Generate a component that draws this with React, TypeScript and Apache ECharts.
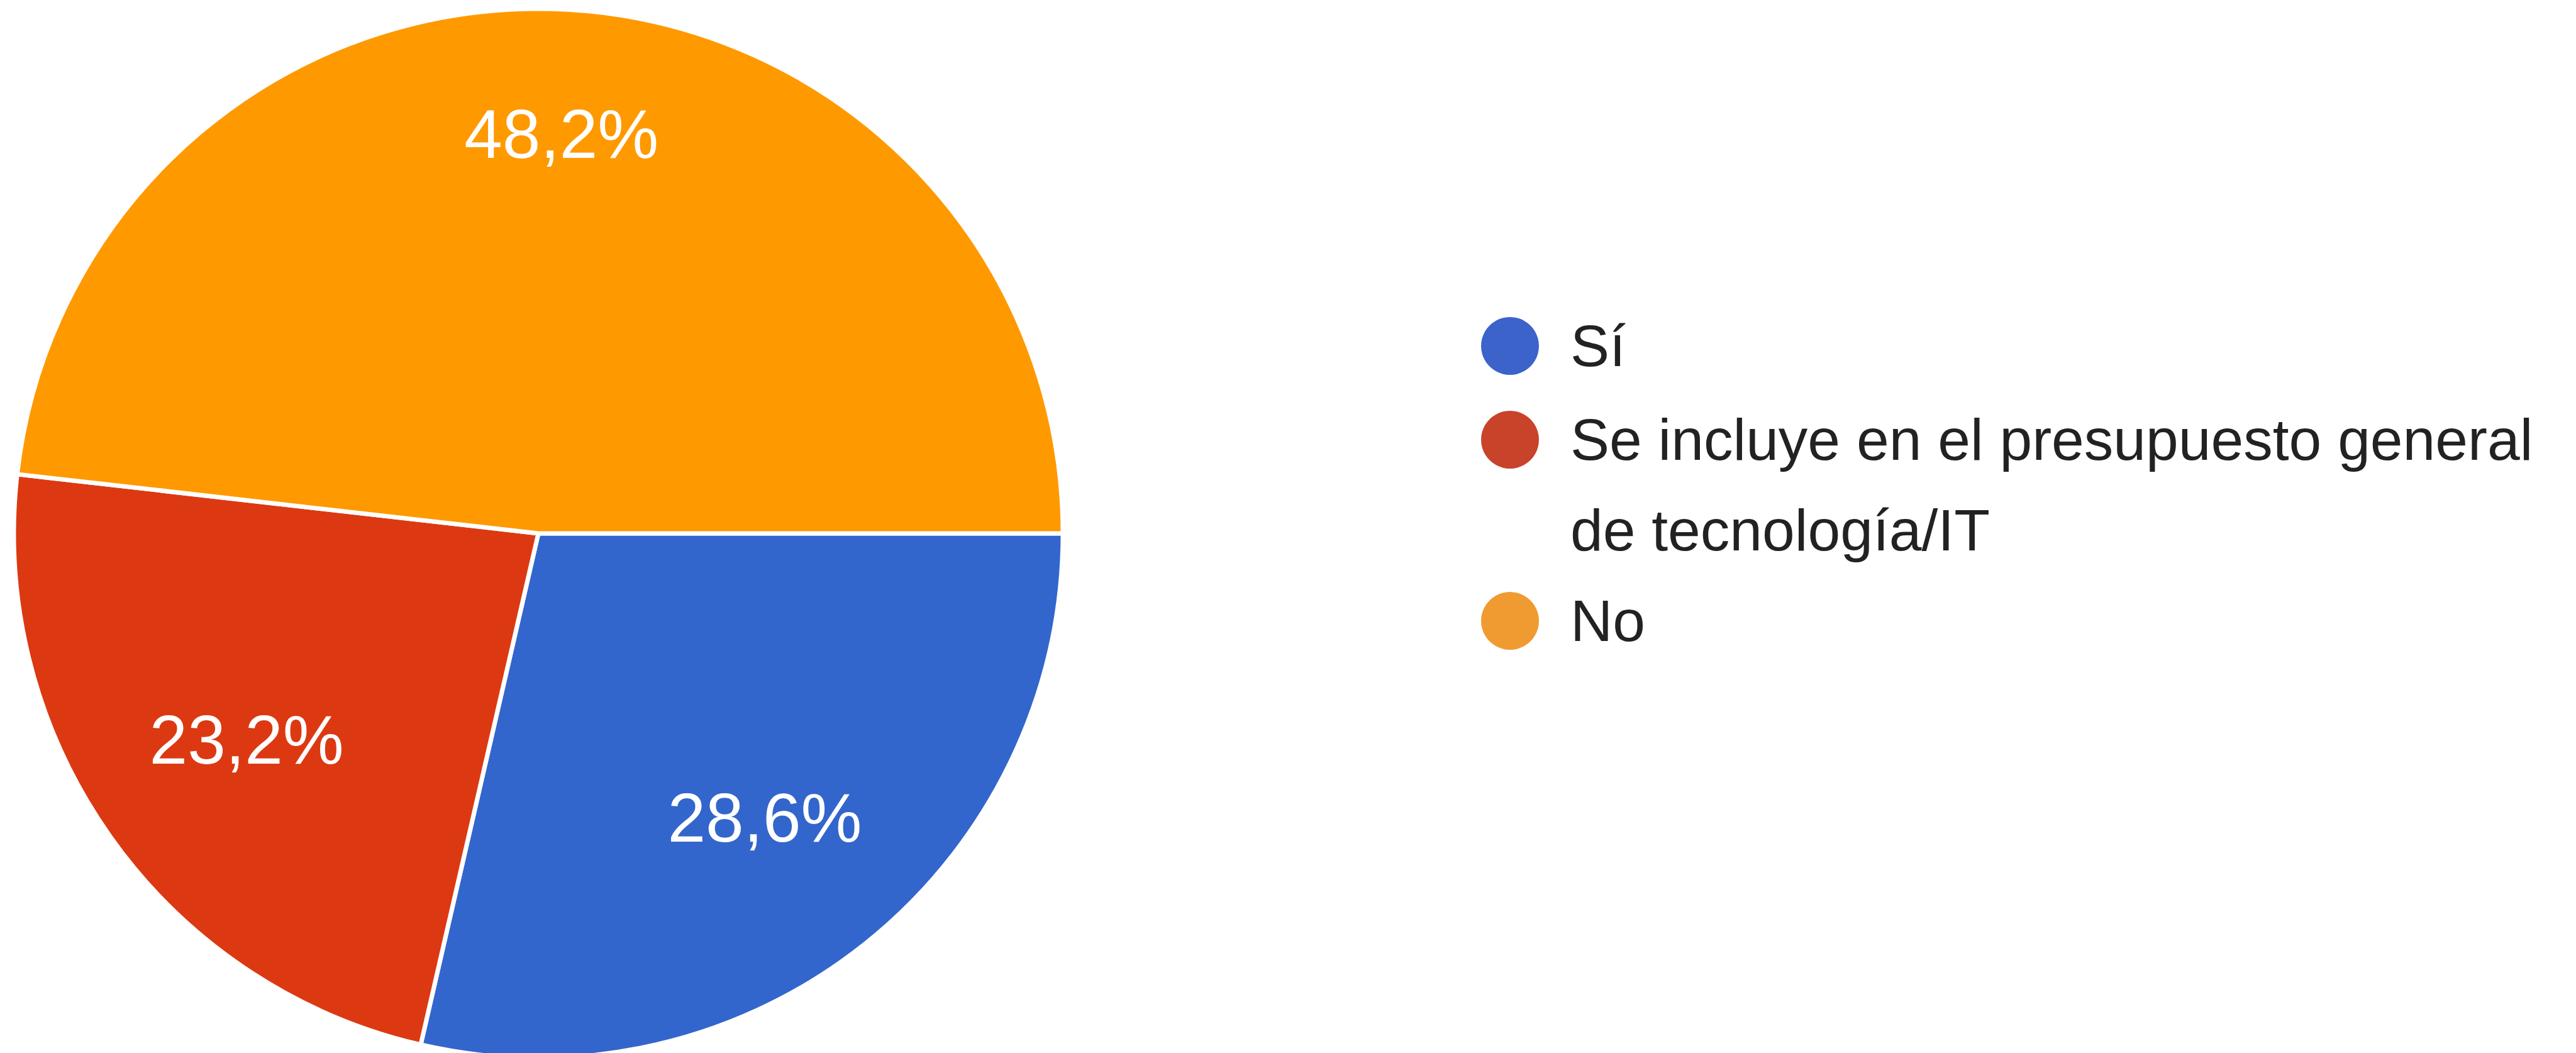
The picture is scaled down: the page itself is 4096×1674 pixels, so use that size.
import React, { useEffect, useRef } from "react";
import * as echarts from "echarts";

const categories = ["Sí", "Se incluye en el presupuesto general\nde tecnología/IT", "No"];
const percentValues = [28.6, 23.2, 48.2];
const sliceColors = ["#3366cc", "#dc3912", "#ff9900"];
const legendColors = ["#3b63c9", "#c8432a", "#ef9b32"];

const FONT = '"Liberation Sans", Arial, Helvetica, sans-serif';
const CX = 856;
const CY = 848;
const R = 834;
const LABEL_R0 = 316;
const LABEL_NUDGE = [
  [0, 0],
  [8, -6],
  [4, -58],
];

export default function App() {
  const ref = useRef<HTMLDivElement>(null);

  useEffect(() => {
    if (!ref.current) return;
    const chart = echarts.init(ref.current, undefined, { renderer: "svg" });
    const pieData = categories.map((name, i) => ({
      name,
      value: percentValues[i],
      itemStyle: { color: sliceColors[i] },
    }));
    const labelData = categories.map((name, i) => ({
      name,
      value: percentValues[i],
    }));
    const legendItem = (i: number) => ({
      name: categories[i],
      icon: "circle",
      itemStyle: { color: legendColors[i], borderWidth: 0 },
    });
    const legendBase = {
      orient: "vertical" as const,
      left: 2355,
      padding: 0,
      itemWidth: 92,
      itemHeight: 92,
      itemGap: 0,
      selectedMode: false,
      // a wrapped name gets an empty leading line so that its first line sits beside the icon
      formatter: (name: string) => (name.indexOf("\n") >= 0 ? "\n" + name : name),
      textStyle: {
        fontFamily: FONT,
        fontSize: 93,
        lineHeight: 144,
        color: "#222222",
        padding: [0, 0, 0, 45],
      },
    };
    chart.setOption({
      animation: false,
      backgroundColor: "#ffffff",
      legend: [
        { ...legendBase, top: 478, data: [legendItem(0)] },
        { ...legendBase, top: 483, data: [legendItem(1), legendItem(2)] },
      ],
      series: [
        {
          type: "pie",
          center: [CX, CY],
          radius: [0, R],
          startAngle: 0,
          clockwise: true,
          avoidLabelOverlap: false,
          label: { show: false },
          labelLine: { show: false },
          itemStyle: { borderColor: "#ffffff", borderWidth: 7 },
          emphasis: { disabled: true },
          data: pieData,
        },
        {
          type: "pie",
          center: [CX, CY],
          radius: [LABEL_R0, R],
          startAngle: 0,
          clockwise: true,
          silent: true,
          avoidLabelOverlap: false,
          itemStyle: { color: "rgba(0,0,0,0)", borderWidth: 0 },
          emphasis: { disabled: true },
          labelLine: { show: false },
          label: {
            show: true,
            position: "inside",
            color: "#ffffff",
            fontFamily: FONT,
            fontSize: 109,
            formatter: (p: any) => p.value.toFixed(1).replace(".", ",") + "%",
          },
          labelLayout: (p: any) => ({
            dx: LABEL_NUDGE[p.dataIndex][0],
            dy: LABEL_NUDGE[p.dataIndex][1],
          }),
          data: labelData,
        },
      ],
    });
    return () => chart.dispose();
  }, []);

  return (
    <div
      ref={ref}
      style={{ position: "fixed", left: 0, top: 0, width: 4096, height: 1674 }}
    />
  );
}
